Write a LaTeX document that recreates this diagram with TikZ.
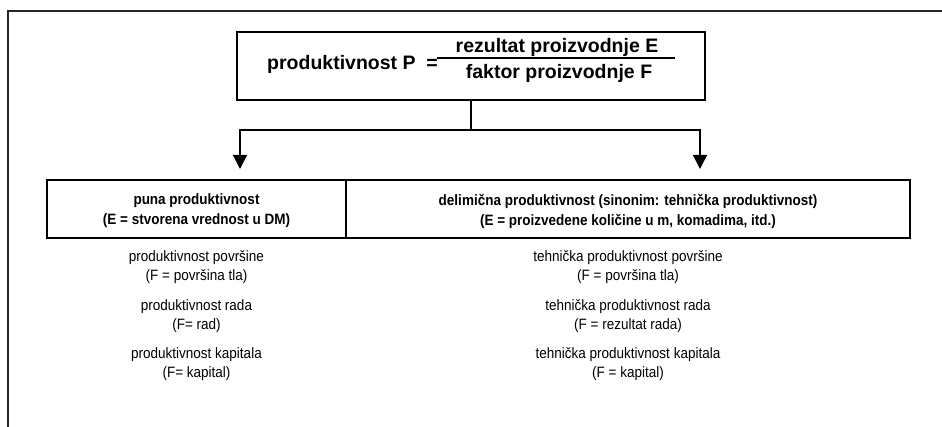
\documentclass[tikz,border=0pt]{standalone}
\usepackage{fontspec}
\setmainfont{Liberation Sans}
\usetikzlibrary{arrows.meta}
\begin{document}
\begin{tikzpicture}[x=1pt,y=-1pt,
  boxline/.style={draw,line width=2pt},
  bigtxt/.style={font=\fontsize{19.5}{24}\selectfont\bfseries,inner sep=0pt},
  headtxt/.style={font=\fontsize{15}{20}\selectfont\bfseries\addfontfeature{FakeStretch=0.9},align=center,inner sep=0pt},
  itemtxt/.style={font=\fontsize{15}{19}\selectfont\addfontfeature{FakeStretch=0.9},align=center,inner sep=0pt},
  link/.style={line width=1.3pt},
  tip/.style={link,-{Triangle[length=14pt,width=14pt]}}]
\useasboundingbox (0,0) rectangle (942,427);
% outer frame
\draw[line width=2pt,black!85] (8,427) -- (8,11) -- (942,11);
% formula box
\node[boxline,minimum width=468pt,minimum height=67.5pt,inner sep=0pt] (top) at (471,66) {};
\node[bigtxt,anchor=west] (prod) at (267,64) {produktivnost P};
\node[bigtxt] (eq) at (432,64) {=};
\node[bigtxt] (num) at (557,47) {rezultat proizvodnje E};
\node[bigtxt] (den) at (559,73) {faktor proizvodnje F};
\draw[line width=1.5pt] (437,58) -- (675,58);
% category boxes
\node[boxline,minimum width=299pt,minimum height=58pt,inner sep=0pt] (full) at (196.5,209) {};
\node[boxline,minimum width=564pt,minimum height=58pt,inner sep=0pt] (part) at (628,209) {};
\node[headtxt] (fullt) at (196.5,211) {puna produktivnost\\(E = stvorena vrednost u DM)};
\node[headtxt] (partt) at (628,211) {delimična produktivnost (sinonim: tehnička produktivnost)\\(E = proizvedene količine u m, komadima, itd.)};
% connectors
\coordinate (lj) at (240,130);
\coordinate (rj) at (700,130);
\coordinate (la) at (240,169);
\coordinate (ra) at (700,169);
\draw[link] (top.south) -- (top.south |- lj);
\draw[tip] (top.south |- lj) -- (lj) -- (la);
\draw[tip] (top.south |- rj) -- (rj) -- (ra);
% measures
\node[itemtxt] (l1) at (196.5,267) {produktivnost površine\\(F = površina tla)};
\node[itemtxt] (l2) at (196.5,316) {produktivnost rada\\(F= rad)};
\node[itemtxt] (l3) at (196.5,364) {produktivnost kapitala\\(F= kapital)};
\node[itemtxt] (r1) at (628,267) {tehnička produktivnost površine\\(F = površina tla)};
\node[itemtxt] (r2) at (628,316) {tehnička produktivnost rada\\(F = rezultat rada)};
\node[itemtxt] (r3) at (628,364) {tehnička produktivnost kapitala\\(F = kapital)};
\end{tikzpicture}
\end{document}
